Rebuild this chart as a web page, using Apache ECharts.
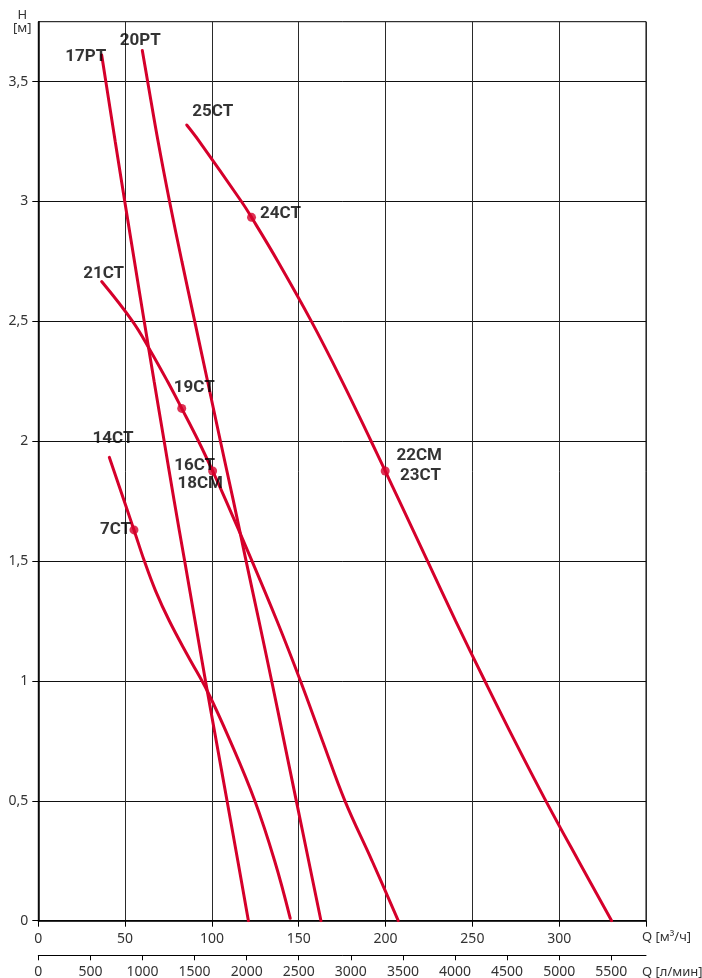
<!DOCTYPE html>
<html>
<head>
<meta charset="utf-8">
<script src="https://cdn.jsdelivr.net/npm/echarts@6/dist/echarts.min.js"></script>
<style>
  html, body { margin: 0; padding: 0; background: #fff; }
  #chart { width: 702px; height: 978px; }
</style>
</head>
<body>
<div id="chart"></div>
<script>
// Pump performance curves: head H [м] against flow Q [м³/ч], with a second flow scale in л/мин.

// Tick labels
const qTicks = [0, 50, 100, 150, 200, 250, 300];
const qTickMarks = [0, 50, 100, 150, 200, 250, 300, 350];
const hTicks = [0, 0.5, 1, 1.5, 2, 2.5, 3, 3.5];
const lpmTicks = [0, 500, 1000, 1500, 2000, 2500, 3000, 3500, 4000, 4500, 5000, 5500];

// Curves as [Q м³/ч, H м]
const curve17PT = [[36.5, 3.611], [38.9, 3.5], [44.3, 3.25], [49.8, 3.0], [55.4, 2.75], [61.0, 2.5],
  [66.7, 2.25], [72.5, 2.0], [78.3, 1.75], [84.3, 1.5], [90.3, 1.25], [96.3, 1.0], [102.5, 0.75],
  [108.7, 0.5], [114.9, 0.25], [121.0, 0]];
const curve20PT = [[59.9, 3.63], [63.0, 3.5], [69.0, 3.25], [75.6, 3.0], [82.7, 2.75], [90.1, 2.5],
  [97.5, 2.25], [104.9, 2.0], [112.4, 1.75], [119.7, 1.5], [127.1, 1.25], [134.4, 1.0], [141.5, 0.75],
  [148.6, 0.5], [155.7, 0.25], [162.8, 0]];
const curve21CT = [[36.5, 2.666], [54.3, 2.5], [64.3, 2.381], [74.4, 2.25], [82.6, 2.137], [92.3, 2.0],
  [100.4, 1.876], [108.2, 1.75], [123.1, 1.5], [137.5, 1.25], [151.0, 1.0], [163.7, 0.75],
  [176.6, 0.5], [192.2, 0.25], [207.3, 0]];
const curve14CT = [[40.9, 1.933], [55.1, 1.630], [61.1, 1.5], [67.6, 1.375], [75.5, 1.25], [86.2, 1.104],
  [97.6, 0.954], [110.5, 0.75], [124.7, 0.5], [136.1, 0.25], [145.1, 0.01]];
const curve25CT = [[85.5, 3.319], [92.8, 3.25], [117.0, 3.0], [122.8, 2.934], [138.0, 2.75], [157.3, 2.5],
  [175.0, 2.25], [191.7, 2.0], [199.8, 1.876], [208.0, 1.75], [224.2, 1.5], [240.4, 1.25], [257.2, 1.0],
  [274.4, 0.75], [292.3, 0.5], [311.1, 0.25], [330.2, 0]];

// Duty points marked on the curves
const markerNames = ['19CT', '16CT', '7CT', '24CT', '22CM'];
const markerPoints = [[82.6, 2.137], [100.4, 1.876], [55.1, 1.630], [122.8, 2.934], [199.8, 1.876]];

const curveNames = ['17PT', '20PT', '21CT', '14CT', '25CT'];
const curves = [curve17PT, curve20PT, curve21CT, curve14CT, curve25CT];

// Extra model names sharing a duty point
const sharedNames = { '16CT': ['18CM'], '22CM': ['23CT'] };

const RED = '#d5002b';
const INK = '#000';
const GRAY = '#333';
const FONT = '"Noto Sans", sans-serif';

// Label placement relative to the anchor point (pixels)
const labelOffset = {
  '17PT': [-16, 2], '20PT': [-2, -10], '25CT': [26, -13], '24CT': [29, -3.5],
  '21CT': [2, -8], '19CT': [12.5, -21], '14CT': [3.7, -18.3], '16CT': [-18, -5.7],
  '18CM': [-12.4, 12.3], '7CT': [-18.5, 0], '22CM': [34, -15.7], '23CT': [35.3, 4.5]
};

const labelData = [];
curveNames.forEach((n, i) => labelData.push({ name: n, value: curves[i][0] }));
markerNames.forEach((n, i) => {
  labelData.push({ name: n, value: markerPoints[i] });
  (sharedNames[n] || []).forEach(s => labelData.push({ name: s, value: markerPoints[i] }));
});
labelData.forEach(d => { d.label = { offset: labelOffset[d.name] }; });

const series = curves.map((c, i) => ({
  name: curveNames[i],
  type: 'line',
  data: c,
  smooth: 0.4,
  symbol: 'none',
  lineStyle: { color: RED, width: 3, cap: 'round' },
  z: 3
}));

series.push({
  type: 'scatter',
  data: markerPoints,
  symbol: 'circle',
  symbolSize: 9,
  itemStyle: { color: RED },
  z: 4
});

series.push({
  type: 'scatter',
  data: labelData,
  symbolSize: 0,
  silent: true,
  label: {
    show: true,
    position: 'inside',
    formatter: '{b}',
    color: INK,
    fontFamily: 'Roboto, sans-serif',
    fontWeight: 'bold',
    fontSize: 17,
    align: 'center',
    verticalAlign: 'middle'
  },
  z: 5
});

const nameStyle = {
  align: 'left', verticalAlign: 'top', padding: [10, 0, 0, 0],
  fontSize: 13, color: GRAY, fontFamily: FONT
};

const chart = echarts.init(document.getElementById('chart'), null, { renderer: 'canvas' });
chart.setOption({
  animation: false,
  backgroundColor: '#fff',
  textStyle: { fontFamily: FONT },
  grid: {
    left: 38.3, right: 56, top: 21.7, bottom: 57.3,
    show: true, borderColor: INK, borderWidth: 1,
    outerBoundsMode: 'none'
  },
  xAxis: [{
    type: 'value',
    min: 0, max: 350, interval: 25,
    position: 'bottom',
    axisLine: { show: true, onZero: false, lineStyle: { color: '#000', width: 1.5 } },
    axisTick: { show: true, customValues: qTickMarks, length: 6, lineStyle: { color: '#000' } },
    axisLabel: { customValues: qTicks, fontSize: 14, color: GRAY, margin: 11, fontFamily: FONT,
      formatter: v => String(v) },
    splitLine: { show: true, lineStyle: { color: '#2a2a2a', width: 1 } },
    name: 'Q [м³/ч]',
    nameLocation: 'end',
    nameGap: -4,
    nameTextStyle: nameStyle
  }, {
    type: 'value',
    min: 0, max: 350 * 1000 / 60, interval: 500,
    position: 'bottom',
    offset: 34.6,
    axisLine: { show: true, onZero: false, lineStyle: { color: '#000', width: 1 } },
    axisTick: { show: true, customValues: lpmTicks, length: 5, lineStyle: { color: '#000' } },
    axisLabel: { customValues: lpmTicks, fontSize: 14, color: GRAY, margin: 10, fontFamily: FONT,
      formatter: v => String(v) },
    splitLine: { show: false },
    name: 'Q [л/мин]',
    nameLocation: 'end',
    nameGap: -4,
    nameTextStyle: nameStyle
  }],
  yAxis: {
    type: 'value',
    min: 0, max: 3.75, interval: 0.25,
    axisLine: { show: true, onZero: false, lineStyle: { color: '#000', width: 1.5 } },
    axisTick: { show: true, customValues: hTicks, length: 6, lineStyle: { color: '#000' } },
    axisLabel: {
      customValues: hTicks, fontSize: 14, color: GRAY, margin: 10, fontFamily: FONT,
      formatter: v => String(v).replace('.', ',')
    },
    splitLine: { show: true, lineStyle: { color: '#111', width: 1 } },
    name: 'H\n[м]',
    nameLocation: 'end',
    nameGap: 0,
    nameTextStyle: {
      align: 'center', verticalAlign: 'middle', padding: [0, 32, 0, 0],
      fontSize: 13, lineHeight: 13, color: GRAY, fontFamily: FONT
    }
  },
  series: series
});
</script>
</body>
</html>
